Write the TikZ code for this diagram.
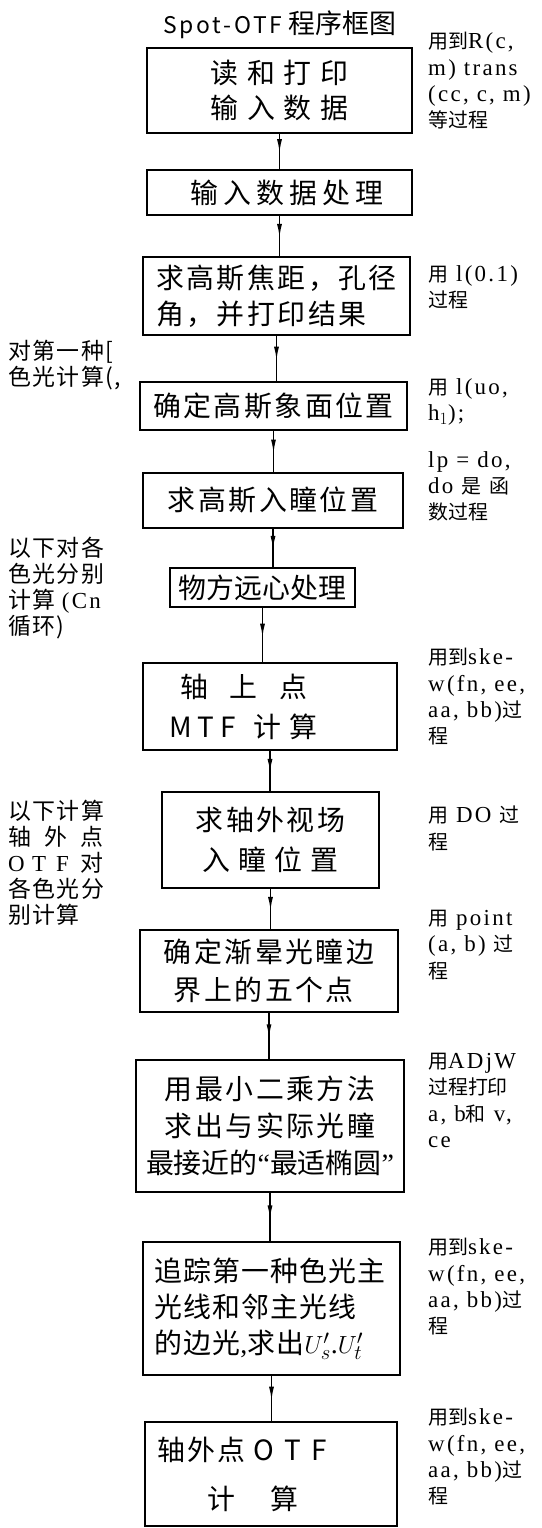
\documentclass[tikz,border=0pt]{standalone}
\usepackage{fontspec}
\setmainfont{Liberation Serif}
\newfontfamily\lat[LetterSpace=10]{Liberation Serif}
\newfontfamily\han{Noto Sans CJK SC}
\newfontfamily\lhan[LetterSpace=6]{Noto Sans CJK SC}
\newfontfamily\hw[LetterSpace=9]{Noto Sans CJK SC}
\newfontfamily\hwm[LetterSpace=4]{Noto Sans CJK SC}
\newfontfamily\hwn{Noto Sans CJK SC}
\newfontfamily\ttl[LetterSpace=12]{Noto Sans CJK SC}
\usetikzlibrary{arrows.meta,decorations.markings}
\newcommand\h[1]{{\han\fontsize{20}{26.5}\selectfont #1}}
\newcommand\gp{\hspace{9bp}}
\tikzset{
  box/.style={draw, line width=2.8bp, inner sep=0pt, align=center,
    font=\hw\fontsize{28}{36}\selectfont},
  flow/.style={line width=1.5bp, postaction={decorate},
    decoration={markings, mark=at position 0.55 with {\arrow{Latex[length=14bp,width=5bp]}}}},
  rnote/.style={anchor=north west, inner sep=0pt, align=left,
    font=\lat\fontsize{23}{26.5}\selectfont, execute at begin node=\strut},
  lnote/.style={anchor=north west, inner sep=0pt, align=left,
    font=\lhan\fontsize{23}{26}\selectfont},
}
\begin{document}
\begin{tikzpicture}[x=1bp,y=-1bp]
\path[fill=white,use as bounding box] (0,0) rectangle (542,1528);

\node[anchor=base west, inner sep=0pt, font=\ttl\fontsize{23}{28}\selectfont] (title) at (163,34)
  {Spot-OTF\hspace{6bp}{\hwn\fontsize{27}{28}\selectfont 程序框图}};

\node[box, minimum width=265bp, minimum height=85bp] (b1) at (279.5,90.5)
  {读\gp 和\gp 打\gp 印\hspace{30bp}\\输\gp 入\gp 数\gp 据};
\node[box, minimum width=265bp, minimum height=45bp] (b2) at (279.5,192.5)
  {\hspace{15bp}输\hspace{5bp}入\hspace{5bp}数\hspace{5bp}据\hspace{5bp}处\hspace{5bp}理};
\node[box, align=left, minimum width=267bp, minimum height=78bp] (b3) at (276.5,296)
  {求高斯焦距，孔径\\角，并打印结果};
\node[box, minimum width=267bp, minimum height=48bp] (b4) at (273.5,406)
  {确定高斯象面位置};
\node[box, minimum width=260bp, minimum height=55bp] (b5) at (273,500.5)
  {求高斯入瞳位置};
\node[box, font=\hwn\fontsize{28}{36}\selectfont, minimum width=185bp, minimum height=39bp] (b6) at (262.5,587.5)
  {物方远心处理};
\node[box, align=left, text width=230bp, minimum width=254bp, minimum height=87bp] (b7) at (270,706.5)
  {\hspace*{25bp}轴\hspace{22bp}上\hspace{22bp}点\\[4bp]\hspace*{14bp}M\hspace{6bp}T\hspace{6bp}F\hspace{18bp}计\hspace{8bp}算};
\node[box, minimum width=217bp, minimum height=96bp] (b8) at (270.5,840)
  {求轴外视场\\[4bp]入\hspace{8bp}瞳\hspace{8bp}位\hspace{8bp}置};
\node[box, align=left, minimum width=258bp, minimum height=82bp] (b9) at (269,971)
  {确定渐晕光瞳边\\[2bp]\hspace{10bp}界上的五个点};
\node[box, minimum width=268bp, minimum height=132bp] (b10) at (270,1126)
  {用最小二乘方法\\[1bp]求出与实际光瞳\\[1bp]{\hwn 最接近的{\lat “}最适椭圆{\lat ”}}};
\node[box, font=\hwm\fontsize{28}{36}\selectfont, align=left, text width=234bp, minimum width=257bp, minimum height=133bp] (b11) at (271.5,1308.5)
  {追踪第一种色光主\\光线和邻主光线\\的边光{\lat ,}求出$U'_s${\lat .}$U'_t$};
\node[box, align=left, text width=230bp, minimum width=252bp, minimum height=104bp] (b12) at (271,1474)
  {\hspace*{1bp}轴外点\hspace{8bp}O\hspace{10bp}T\hspace{10bp}F\\[13bp]\hspace*{51bp}计\hspace{36bp}算};

\draw[flow] (b1.south) -- (b1.south |- b2.north);
\draw[flow] (b2.south) -- (b2.south |- b3.north);
\draw[flow] (b3.south) -- (b3.south |- b4.north);
\draw[flow] (b4.south) -- (b4.south |- b5.north);
\draw[flow] (b5.south) -- (b5.south |- b6.north);
\draw[flow] (b6.south) -- (b6.south |- b7.north);
\draw[flow] (b7.south) -- (b7.south |- b8.north);
\draw[flow] (b8.south) -- (b8.south |- b9.north);
\draw[flow] (b9.south) -- (b9.south |- b10.north);
\draw[flow] (b10.south) -- (b10.south |- b11.north);
\draw[flow] (b11.south) -- (b11.south |- b12.north);

\node[rnote] (n1) at (428,32) {\h{用到}R(c,\\m) trans\\(cc, c, m)\\\h{等过程}};
\node[rnote] (n2) at (428,265) {\h{用} l(0.1)\\\h{过程}};
\node[rnote] (n3) at (428,378) {\h{用} l(uo,\\h$_1$);};
\node[rnote] (n4) at (428,451) {lp = do,\\do \h{是} \h{函}\\\h{数过程}};
\node[rnote] (n5) at (428,648) {\h{用到}ske-\\w(fn, ee,\\aa, bb)\h{过}\\\h{程}};
\node[rnote] (n6) at (428,806) {\h{用} DO \h{过}\\\h{程}};
\node[rnote] (n7) at (428,910) {\h{用} point\\(a, b) \h{过}\\\h{程}};
\node[rnote] (n8) at (428,1053) {\h{用}ADjW\\\h{过程打印}\\a, b\h{和} v,\\ce};
\node[rnote] (n9) at (428,1238) {\h{用到}ske-\\w(fn, ee,\\aa, bb)\h{过}\\\h{程}};
\node[rnote] (n10) at (428,1408) {\h{用到}ske-\\w(fn, ee,\\aa, bb)\h{过}\\\h{程}};

\node[lnote] (l1) at (8,340) {对第一种[\\色光计算(,};
\node[lnote] (l2) at (8,537) {以下对各\\色光分别\\计算 {\lat (Cn}\\循环)};
\node[lnote] (l3) at (8,800) {以下计算\\轴\hspace{13bp}外\hspace{13bp}点\\\makebox[24bp][l]{\lat O}\makebox[24bp][l]{\lat T}\makebox[24bp][l]{\lat F}对\\各色光分\\别计算};
\end{tikzpicture}
\end{document}
